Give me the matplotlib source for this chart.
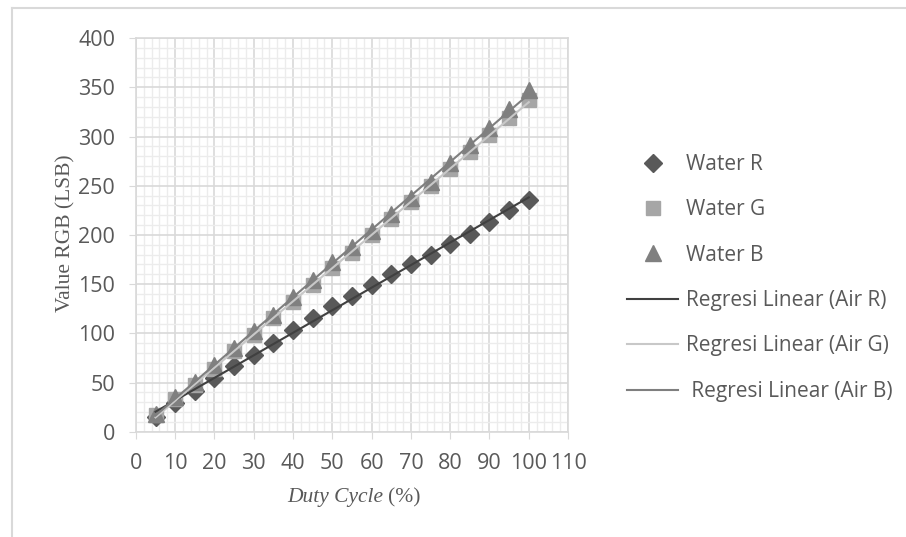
import numpy as np
import matplotlib
matplotlib.use("Agg")
import matplotlib.pyplot as plt
from matplotlib.lines import Line2D
from matplotlib.ticker import MultipleLocator

# duty cycle (%) and measured RGB values (LSB)
duty = [5, 10, 15, 20, 25, 30, 35, 40, 45, 50,
        55, 60, 65, 70, 75, 80, 85, 90, 95, 100]
water_r = [15, 29, 41, 55, 67, 78, 90, 103, 116, 128,
           138, 149, 160, 170, 180, 191, 201, 213, 225, 236]
water_g = [17, 33, 48, 64, 82, 98, 116, 132, 149, 166,
           182, 200, 216, 233, 250, 267, 284, 302, 319, 337]
water_b = [18, 35, 51, 68, 85, 102, 119, 137, 154, 172,
           188, 204, 221, 238, 254, 273, 291, 309, 328, 347]

series_labels = ["Water R", "Water G", "Water B"]
fit_labels = ["Regresi Linear (Air R)", "Regresi Linear (Air G)", " Regresi Linear (Air B)"]

text_col = "#595959"
marker_cols = ["#595959", "#a6a6a6", "#808080"]
fit_cols = ["#404040", "#c8c8c8", "#7f7f7f"]
markers = ["D", "s", "^"]
msizes = [9, 10, 11]

fig = plt.figure(figsize=(9.06, 5.37), dpi=100)
ax = fig.add_axes([0.150, 0.196, 0.477, 0.733])

# chart-area border (left and top only visible)
fig.add_artist(Line2D([12 / 906, 12 / 906], [0, 1 - 8 / 537], transform=fig.transFigure,
                      color="#d9d9d9", lw=1.5))
fig.add_artist(Line2D([12 / 906, 1], [1 - 8 / 537, 1 - 8 / 537], transform=fig.transFigure,
                      color="#d9d9d9", lw=1.5))

x = np.array(duty, dtype=float)
handles_pts = []
handles_fit = []
for i, ys in enumerate([water_r, water_g, water_b]):
    ys = np.array(ys, dtype=float)
    h, = ax.plot(x, ys, linestyle="none", marker=markers[i], ms=msizes[i],
                 color=marker_cols[i], zorder=3 + i)
    handles_pts.append(h)

for i, ys in enumerate([water_r, water_g, water_b]):
    slope, icpt = np.polyfit(x, np.array(ys, dtype=float), 1)
    xf = np.array([x.min(), x.max()])
    h, = ax.plot(xf, slope * xf + icpt, color=fit_cols[i], lw=1.5, zorder=7)
    handles_fit.append(h)

ax.set_xlim(0, 110)
ax.set_ylim(0, 400)
ax.xaxis.set_major_locator(MultipleLocator(10))
ax.xaxis.set_minor_locator(MultipleLocator(2))
ax.yaxis.set_major_locator(MultipleLocator(50))
ax.yaxis.set_minor_locator(MultipleLocator(10))
ax.grid(which="major", color="#d9d9d9", lw=1.2, zorder=0)
ax.grid(which="minor", color="#ececec", lw=1.0, zorder=0)
ax.set_axisbelow(True)
for s in ax.spines.values():
    s.set_color("#d9d9d9")
    s.set_linewidth(1.2)
ax.tick_params(which="major", length=5, color="#d9d9d9", labelcolor=text_col,
               labelsize=15.5)
ax.tick_params(axis="x", which="major", pad=10)
ax.tick_params(axis="y", which="major", pad=10)
ax.tick_params(which="minor", length=0)
for lab in ax.get_xticklabels() + ax.get_yticklabels():
    lab.set_fontfamily("Open Sans")

ax.text(-0.163, 0.505, "Value RGB (LSB)", transform=ax.transAxes, rotation=90,
        ha="center", va="center", fontsize=15.5, family="Liberation Serif", color=text_col)
ax.text(0.572, -0.1675, "Duty Cycle", transform=ax.transAxes, ha="right", va="center",
        fontsize=15.5, family="Liberation Serif", style="italic", color=text_col)
ax.text(0.584, -0.1675, "(%)", transform=ax.transAxes, ha="left", va="center",
        fontsize=15.5, family="Liberation Serif", color=text_col)

leg = ax.legend(handles_pts + handles_fit, series_labels + fit_labels,
                loc="upper left", bbox_to_anchor=(627 / 906, 1 - 154 / 537),
                bbox_transform=fig.transFigure, frameon=False,
                prop={"family": "Open Sans", "size": 15},
                labelspacing=1.17, handlelength=2.45, handletextpad=0.38,
                borderpad=0, borderaxespad=0)
for t in leg.get_texts():
    t.set_color(text_col)

fig.savefig("out.png", dpi=100)
